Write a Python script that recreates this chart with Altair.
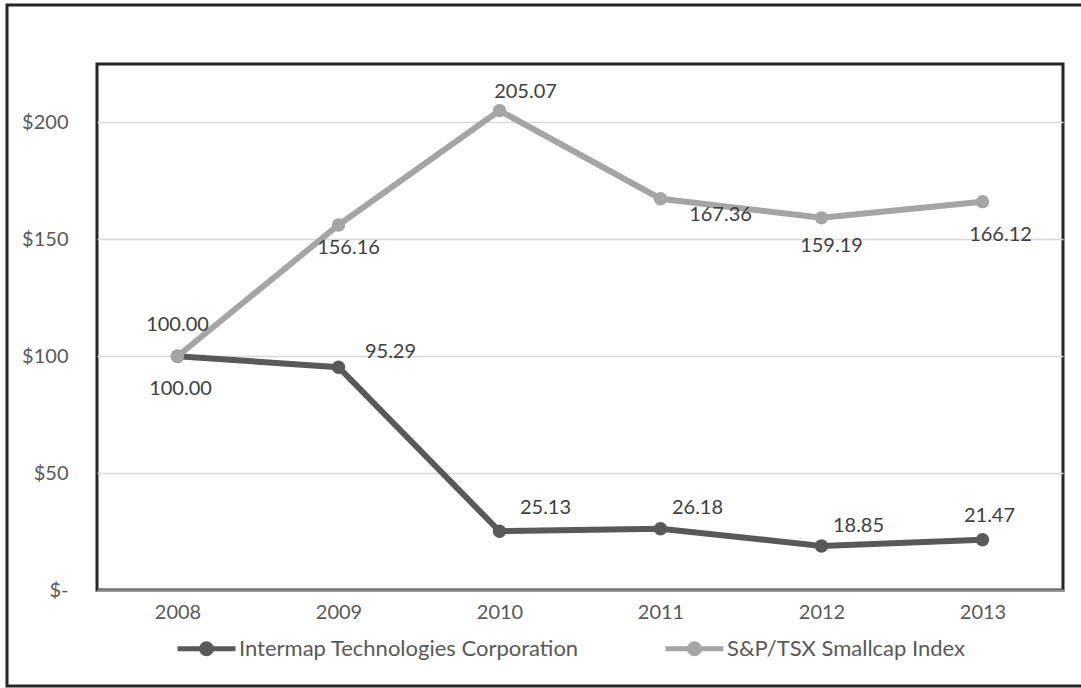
import altair as alt
import pandas as pd

years = ["2008", "2009", "2010", "2011", "2012", "2013"]
intermap = [100.00, 95.29, 25.13, 26.18, 18.85, 21.47]
sptsx = [100.00, 156.16, 205.07, 167.36, 159.19, 166.12]
series_names = ["Intermap Technologies Corporation", "S&P/TSX Smallcap Index"]
series_colors = ["#595959", "#A5A5A5"]
y_ticks = [0, 50, 100, 150, 200]

rows = []
for name, vals in zip(series_names, [intermap, sptsx]):
    for yr, v in zip(years, vals):
        rows.append({"year": yr, "value": v, "series": name, "label": f"{v:.2f}"})
df = pd.DataFrame(rows)

FONT = "Lato"

# label offsets (dx, dy) per series/year -- styling only
offsets = {
    series_names[1]: [(0, -31), (10, 23), (26, -19), (60, 16), (10, 28), (18, 33)],
    series_names[0]: [(3, 33), (52, -15), (46, -23), (37, -21), (37, -20), (7, -24)],
}

x_enc = alt.X("year:N", sort=years, title=None,
              scale=alt.Scale(paddingInner=0, paddingOuter=0, align=0.5),
              axis=alt.Axis(labelAngle=0, labelFont=FONT, labelFontSize=20,
                            labelColor="#595959", ticks=False, labelPadding=12,
                            domainColor="#8c8c8c", domainWidth=2, grid=False))
x_band = alt.X("year:N", sort=years, title=None,
               scale=alt.Scale(paddingInner=0, paddingOuter=0, align=0.5))
y_enc = alt.Y("value:Q", title=None,
              scale=alt.Scale(domain=[0, 225], nice=False, zero=True),
              axis=alt.Axis(values=y_ticks, labelFont=FONT, labelFontSize=20,
                            labelColor="#595959", ticks=False, labelPadding=29,
                            domain=False, gridColor="#D9D9D9", gridWidth=1.5,
                            labelExpr="datum.value == 0 ? '$-' : '$' + datum.value"))

color_enc = alt.Color(
    "series:N",
    scale=alt.Scale(domain=series_names, range=series_colors),
    legend=alt.Legend(
        title=None, orient="none", direction="horizontal", columns=2,
        legendX=78, legendY=553,
        symbolType="M-1,0L1,0M0.17,0A0.17,0.17,0,1,1,-0.17,0A0.17,0.17,0,1,1,0.17,0",
        symbolSize=3364, symbolStrokeWidth=5,
        labelFont=FONT, labelFontSize=22, labelColor="#595959",
        labelOffset=1, columnPadding=76, labelLimit=500,
    ),
)

base = alt.Chart(df)

lines = base.mark_line(strokeWidth=6).encode(x=x_enc, y=y_enc, color=color_enc)
points = base.mark_point(filled=True, size=180, opacity=1, shape="circle").encode(
    x=x_band, y="value:Q", color=alt.Color("series:N", legend=None,
                                           scale=alt.Scale(domain=series_names, range=series_colors)))

text_layers = []
for name in series_names:
    for yr, (dx, dy) in zip(years, offsets[name]):
        t = base.mark_text(font=FONT, fontSize=20, color="#404040", dx=dx, dy=dy,
                           align="center", baseline="middle").encode(
            x=x_band, y="value:Q", text="label:N"
        ).transform_filter(
            (alt.datum.series == name) & (alt.datum.year == yr)
        )
        text_layers.append(t)

outer = alt.Chart(alt.Data(values=[{}])).mark_rect(
    fill=None, stroke="#262626", strokeWidth=3, clip=False
).encode(x=alt.value(-90), x2=alt.value(1000), y=alt.value(-59), y2=alt.value(622))

chart = alt.layer(lines, points, *text_layers, outer).properties(
    width=966, height=526,
    padding={"left": 97, "top": 64, "right": 18, "bottom": 98},
    autosize=alt.AutoSizeParams(type="none"),
    background="white",
).configure_view(stroke="#262626", strokeWidth=3)

chart.save("out.html", embed_options={"renderer": "svg", "actions": False})
